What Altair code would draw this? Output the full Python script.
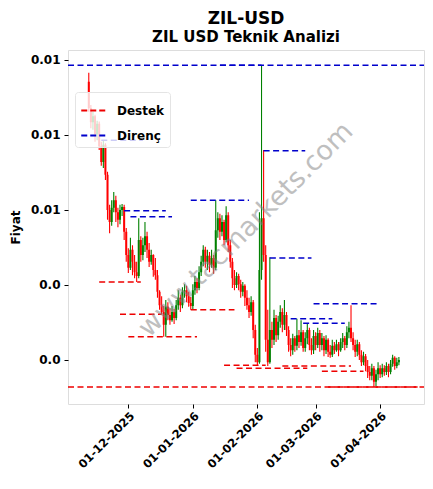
import altair as alt
import pandas as pd

# ---- data (prices in USD) ----
first_open = 0.00771
closes = [
0.00736,0.00717,0.00725,0.00701,0.00715,0.00685,0.00664,0.00687,0.00647,0.00600,
0.00584,0.00603,0.00613,0.00597,0.00587,0.00600,0.00604,0.00571,0.00540,0.00523,
0.00547,0.00531,0.00517,0.00512,0.00560,0.00540,0.00553,0.00565,0.00547,0.00531,
0.00540,0.00520,0.00513,0.00491,0.00473,0.00464,0.00447,0.00471,0.00460,0.00453,
0.00464,0.00456,0.00473,0.00483,0.00473,0.00491,0.00493,0.00485,0.00476,0.00472,
0.00493,0.00504,0.00496,0.00517,0.00531,0.00547,0.00531,0.00539,0.00527,0.00536,
0.00523,0.00573,0.00589,0.00571,0.00584,0.00560,0.00593,0.00553,0.00531,0.00509,
0.00500,0.00512,0.00501,0.00491,0.00499,0.00483,0.00473,0.00464,0.00477,0.00440,
0.00407,0.00397,0.00520,0.00589,0.00540,0.00427,0.00397,0.00440,0.00427,0.00456,
0.00433,0.00451,0.00464,0.00447,0.00460,0.00440,0.00420,0.00413,0.00429,0.00419,
0.00433,0.00424,0.00437,0.00416,0.00429,0.00440,0.00420,0.00413,0.00432,0.00420,
0.00436,0.00420,0.00429,0.00413,0.00427,0.00411,0.00407,0.00419,0.00413,0.00421,
0.00413,0.00424,0.00429,0.00420,0.00437,0.00443,0.00429,0.00420,0.00411,0.00421,
0.00407,0.00397,0.00405,0.00392,0.00384,0.00379,0.00389,0.00371,0.00381,0.00389,
0.00381,0.00389,0.00384,0.00392,0.00384,0.00395,0.00403,0.00392,0.00397,0.00400,
]
highs = [
0.00783,0.00740,0.00731,0.00727,0.00719,0.00718,0.00691,0.00692,0.00689,0.00651,
0.00607,0.00613,0.00624,0.00619,0.00603,0.00607,0.00608,0.00607,0.00576,0.00549,
0.00563,0.00553,0.00540,0.00531,0.00589,0.00565,0.00563,0.00584,0.00571,0.00556,
0.00547,0.00541,0.00536,0.00520,0.00493,0.00485,0.00472,0.00480,0.00477,0.00469,
0.00472,0.00468,0.00480,0.00493,0.00487,0.00497,0.00501,0.00499,0.00491,0.00484,
0.00501,0.00512,0.00509,0.00525,0.00539,0.00553,0.00551,0.00547,0.00544,0.00547,
0.00540,0.00613,0.00597,0.00595,0.00593,0.00587,0.00605,0.00597,0.00560,0.00536,
0.00520,0.00517,0.00515,0.00507,0.00504,0.00501,0.00493,0.00483,0.00485,0.00480,
0.00447,0.00416,0.00597,0.00793,0.00680,0.00553,0.00467,0.00537,0.00451,0.00467,
0.00460,0.00459,0.00473,0.00469,0.00480,0.00464,0.00445,0.00429,0.00435,0.00432,
0.00455,0.00440,0.00453,0.00440,0.00437,0.00448,0.00443,0.00429,0.00440,0.00437,
0.00443,0.00440,0.00436,0.00432,0.00433,0.00429,0.00420,0.00427,0.00424,0.00427,
0.00424,0.00429,0.00436,0.00432,0.00445,0.00451,0.00473,0.00437,0.00427,0.00427,
0.00424,0.00413,0.00411,0.00408,0.00400,0.00392,0.00395,0.00392,0.00387,0.00397,
0.00393,0.00395,0.00393,0.00397,0.00395,0.00400,0.00407,0.00405,0.00403,0.00404,
]
lows = [
0.00731,0.00709,0.00707,0.00691,0.00693,0.00680,0.00659,0.00656,0.00640,0.00587,
0.00569,0.00579,0.00597,0.00584,0.00577,0.00581,0.00592,0.00560,0.00531,0.00516,
0.00520,0.00513,0.00509,0.00504,0.00509,0.00531,0.00533,0.00544,0.00536,0.00524,
0.00527,0.00511,0.00507,0.00483,0.00467,0.00461,0.00431,0.00431,0.00453,0.00447,
0.00451,0.00448,0.00453,0.00467,0.00464,0.00469,0.00483,0.00477,0.00471,0.00467,
0.00467,0.00487,0.00489,0.00493,0.00512,0.00525,0.00523,0.00520,0.00517,0.00523,
0.00515,0.00520,0.00563,0.00560,0.00565,0.00553,0.00557,0.00544,0.00523,0.00496,
0.00493,0.00496,0.00493,0.00483,0.00485,0.00472,0.00467,0.00456,0.00459,0.00429,
0.00397,0.00392,0.00395,0.00507,0.00531,0.00411,0.00392,0.00395,0.00416,0.00420,
0.00424,0.00427,0.00443,0.00437,0.00440,0.00432,0.00411,0.00405,0.00407,0.00411,
0.00413,0.00416,0.00419,0.00411,0.00411,0.00421,0.00413,0.00407,0.00408,0.00413,
0.00416,0.00411,0.00413,0.00405,0.00408,0.00404,0.00403,0.00404,0.00408,0.00411,
0.00405,0.00411,0.00416,0.00413,0.00416,0.00429,0.00424,0.00413,0.00404,0.00405,
0.00400,0.00392,0.00393,0.00385,0.00376,0.00373,0.00373,0.00364,0.00365,0.00373,
0.00376,0.00377,0.00379,0.00380,0.00377,0.00381,0.00391,0.00387,0.00389,0.00393,
]
opens = [first_open] + closes[:-1]
dates = pd.date_range("2025-11-12", periods=len(closes), freq="D")

# support (Destek) / resistance (Direnç) segments
full_res_levels = [0.00793]
full_sup_levels = [0.00364]
res_start = ["2026-01-14", "2025-11-18", "2025-11-29", "2025-12-02", "2025-12-31",
             "2026-02-04", "2026-02-07", "2026-02-28", "2026-02-17", "2026-02-23"]
res_end = ["2026-02-03", "2025-12-08", "2025-12-19", "2025-12-22", "2026-01-28",
           "2026-02-24", "2026-02-27", "2026-03-31", "2026-03-09", "2026-03-15"]
res_level = [0.00793, 0.00693, 0.00599, 0.00591, 0.00613,
             0.00679, 0.00536, 0.00475, 0.00455, 0.00449]
sup_start = ["2026-03-07", "2025-11-17", "2025-11-27", "2025-12-01", "2025-12-31",
             "2026-01-16", "2026-01-22", "2026-02-13", "2026-03-04"]
sup_end = ["2026-04-19", "2025-12-07", "2025-12-17", "2026-01-03", "2026-01-21",
           "2026-02-05", "2026-02-25", "2026-03-18", "2026-03-24"]
sup_level = [0.00364, 0.00504, 0.00461, 0.00431, 0.00467,
             0.00393, 0.00389, 0.00392, 0.00385]

y_ticks = [0.004, 0.005, 0.006, 0.007, 0.008]

FONT = "DejaVu Sans"
RED = "#ee0000"
BLUE = "#0000cc"
W, H = 356, 354

candles = pd.DataFrame({"date": dates, "open": opens, "high": highs,
                        "low": lows, "close": closes})

segs = pd.DataFrame({
    "start": pd.to_datetime(res_start + sup_start),
    "end": pd.to_datetime(res_end + sup_end),
    "level": res_level + sup_level,
    "kind": ["Direnç"] * len(res_level) + ["Destek"] * len(sup_level),
})
full = pd.DataFrame({"level": full_res_levels + full_sup_levels,
                     "kind": ["Direnç"] * len(full_res_levels) + ["Destek"] * len(full_sup_levels)})

xscale = alt.Scale(domain=[alt.DateTime(year=2025, month=11, date=4, hours=10),
                           alt.DateTime(year=2026, month=4, date=19, hours=16)])
yscale = alt.Scale(domain=[0.0034133, 0.0081333], nice=False, zero=False)

xaxis = alt.Axis(
    values=[alt.DateTime(year=2025, month=12, date=1), alt.DateTime(year=2026, month=1, date=1),
            alt.DateTime(year=2026, month=2, date=1), alt.DateTime(year=2026, month=3, date=1),
            alt.DateTime(year=2026, month=4, date=1)],
    format="%d-%m-%Y", labelAngle=-45, labelFont=FONT, labelFontWeight="bold",
    labelFontSize=11.5, labelColor="black", tickColor="black", tickSize=4,
    domain=False, grid=False, title=None, labelPadding=2, labelOverlap=False,
    labelBound=False, labelFlush=False)
yaxis = alt.Axis(values=y_ticks, labelExpr="datum.value < 0.0055 ? '0.0' : '0.01'",
                 labelFont=FONT, labelFontWeight="bold", labelFontSize=12,
                 labelColor="black", tickColor="black", tickSize=4, domain=False,
                 grid=False, title="Fiyat", titleFont=FONT, titleFontWeight="bold",
                 titleFontSize=12, titleColor="black", titlePadding=8, labelPadding=4,
                 labelOverlap=False)

color_cond = alt.condition("datum.close >= datum.open", alt.value("green"), alt.value("red"))

base = alt.Chart(candles)
wick = base.mark_rule(strokeWidth=1.1).encode(
    x=alt.X("date:T", scale=xscale, axis=xaxis),
    y=alt.Y("low:Q", scale=yscale, axis=yaxis),
    y2="high:Q",
    color=color_cond,
)
body = base.mark_bar(size=2).encode(
    x="date:T", y="open:Q", y2="close:Q", color=color_cond)

kind_color = alt.Color("kind:N", scale=alt.Scale(domain=["Destek", "Direnç"], range=[RED, BLUE]),
                       legend=alt.Legend(title=None, orient="none", legendX=7, legendY=42,
                                         symbolType="stroke", symbolStrokeWidth=2,
                                         symbolDash=[6, 3], symbolSize=600,
                                         labelFont=FONT, labelFontWeight="bold",
                                         labelFontSize=12, labelColor="black",
                                         fillColor="rgba(255,255,255,0.8)",
                                         strokeColor="#e4e4e4",
                                         padding=5, cornerRadius=3, rowPadding=5,
                                         labelOffset=10))

seg_rules = alt.Chart(segs).mark_rule(strokeWidth=1.6, strokeDash=[6, 3.5]).encode(
    x="start:T", x2="end:T", y="level:Q", color=kind_color)
full_rules = alt.Chart(full).mark_rule(strokeWidth=1.6, strokeDash=[6, 3.5]).encode(
    x=alt.value(0), x2=alt.value(W), y="level:Q", color=kind_color)

watermark = alt.Chart(pd.DataFrame({"t": ["www.tacmarkets.com"]})).mark_text(
    angle=315, fontSize=27, font=FONT, color="gray", opacity=0.5,
    align="center", baseline="middle").encode(
    x=alt.value(178), y=alt.value(180), text="t:N")

chart = alt.layer(wick, body, seg_rules, full_rules, watermark).properties(
    width=W, height=H,
    title=alt.TitleParams("ZIL-USD", subtitle="ZIL USD Teknik Analizi", font=FONT,
                          fontSize=17, fontWeight="bold", color="black",
                          subtitleFont=FONT, subtitleFontSize=15,
                          subtitleFontWeight="bold", subtitleColor="black",
                          anchor="middle", offset=4, subtitlePadding=2),
    padding={"left": 60, "top": 42, "right": 1, "bottom": 70},
    autosize="none",
).configure_view(stroke="black", strokeWidth=1).configure(background="white")

chart.save("out.html", embed_options={"renderer": "svg", "actions": False})
